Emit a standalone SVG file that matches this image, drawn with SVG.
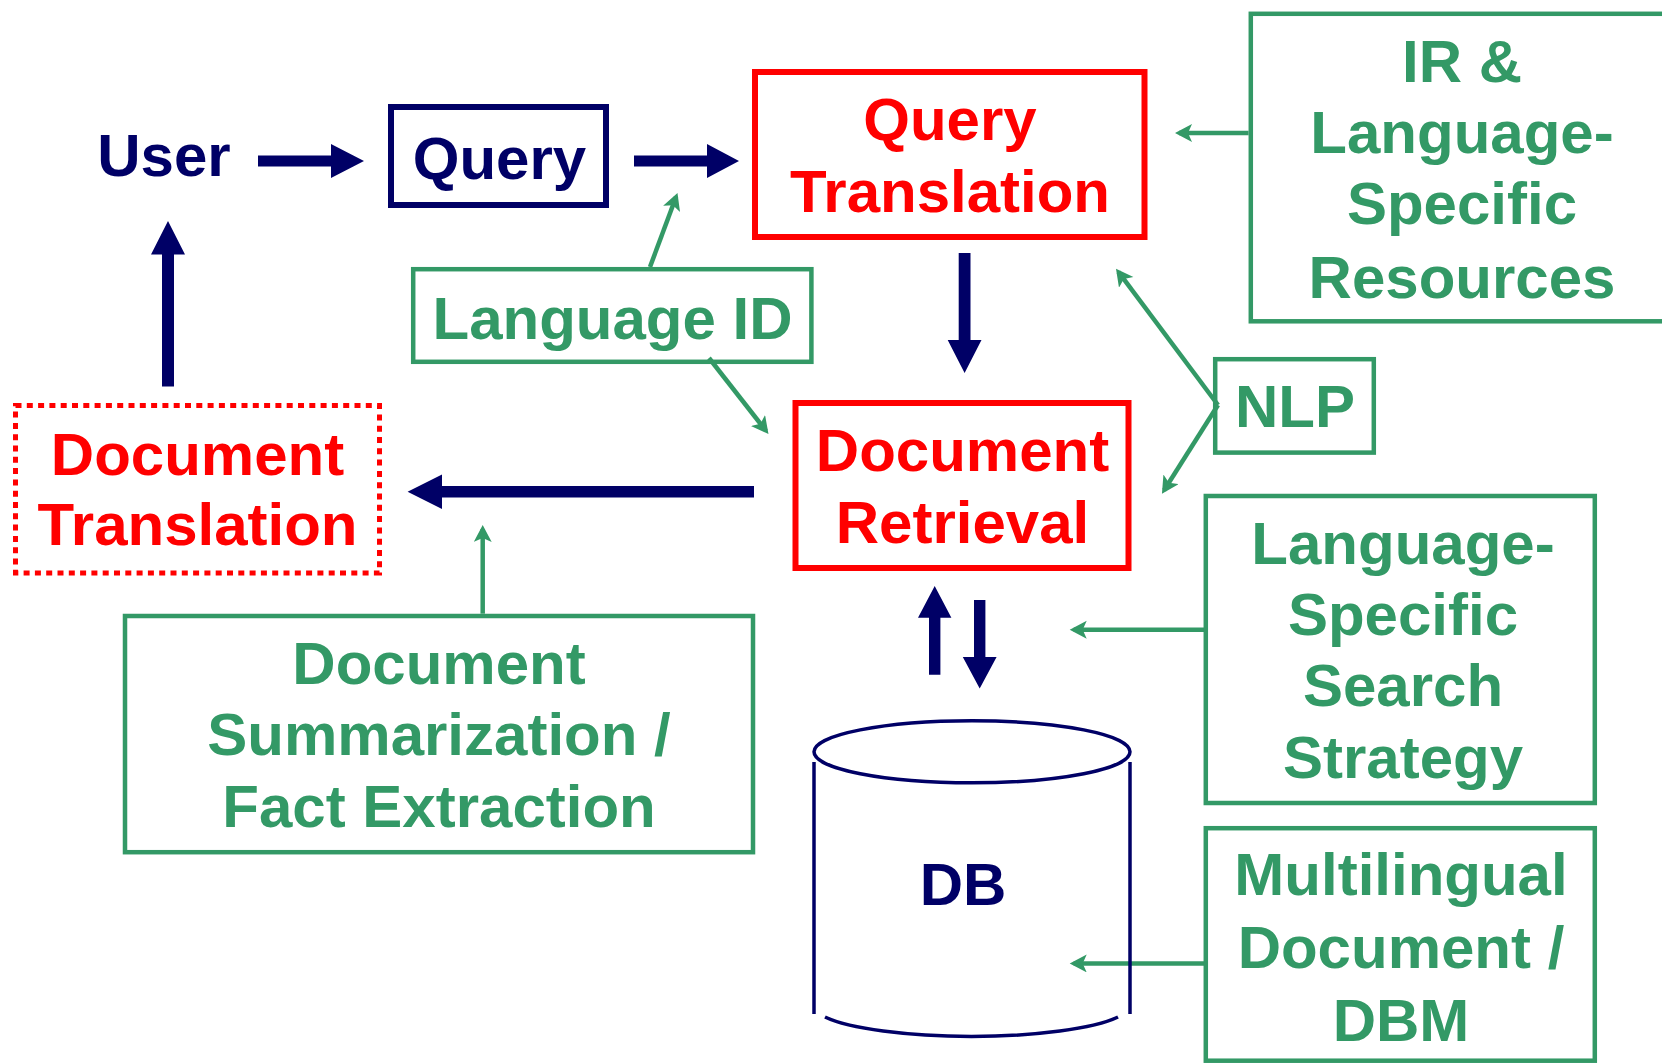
<svg xmlns="http://www.w3.org/2000/svg" width="1662" height="1064" viewBox="0 0 1662 1064">
  <style>
    text { font-family: "Liberation Sans", Arial, sans-serif; font-weight: bold; font-size: 60px; text-anchor: middle; }
    .navy { fill: #000066; }
    .red { fill: #FF0000; }
    .green { fill: #339966; }
    .box-navy { fill: none; stroke: #000066; stroke-width: 6; }
    .box-red { fill: none; stroke: #FF0000; stroke-width: 6; }
    .box-dotted { fill: none; stroke: #FF0000; stroke-width: 5; stroke-dasharray: 6 5.3; }
    .box-green { fill: none; stroke: #339966; stroke-width: 4.5; }
    .flow { fill: #000066; stroke: none; }
    .link { fill: none; stroke: #339966; stroke-width: 4.5; marker-end: url(#gh); }
    .db { fill: none; stroke: #000066; stroke-width: 3.5; }
  </style>
  <defs>
    <marker id="gh" markerUnits="userSpaceOnUse" markerWidth="22" markerHeight="22" refX="13" refY="9" orient="auto">
      <path d="M0,0 L17,9 L0,18 L4,9 Z" fill="#339966"/>
    </marker>
  </defs>
  <rect width="1662" height="1064" fill="#FFFFFF"/>

  <g id="connectors">
    <!-- main flow (thick navy arrows) -->
    <polygon class="flow" points="258,155.5 331,155.5 331,144 364,161 331,178 331,166.5 258,166.5"/>
    <polygon class="flow" points="634,155.5 707,155.5 707,144 739,161 707,178 707,166.5 634,166.5"/>
    <polygon class="flow" points="162,386.5 162,254.5 151,254.5 168,221 185,254.5 174,254.5 174,386.5"/>
    <polygon class="flow" points="958.7,253 970.5,253 970.5,340 981.5,340 964.6,373 947.7,340 958.7,340"/>
    <polygon class="flow" points="754,486 442,486 442,474.6 407.6,491.8 442,509 442,497.6 754,497.6"/>
    <polygon class="flow" points="929,674.8 929,617.8 918,617.8 934.7,586 951.4,617.8 940.4,617.8 940.4,674.8"/>
    <polygon class="flow" points="974,600 985.4,600 985.4,657 996.6,657 979.7,688.5 962.8,657 974,657"/>
    <!-- supporting resources (thin green arrows) -->
    <line class="link" x1="650" y1="267" x2="676.1" y2="196.7"/>
    <line class="link" x1="709" y1="358" x2="766" y2="430.8"/>
    <line class="link" x1="1248.6" y1="133" x2="1179" y2="133"/>
    <line class="link" x1="1218" y1="405" x2="1118.4" y2="271.9"/>
    <line class="link" x1="1218" y1="405" x2="1164.1" y2="490.3"/>
    <line class="link" x1="482.7" y1="613.7" x2="482.7" y2="529"/>
    <line class="link" x1="1204.7" y1="629.7" x2="1073.7" y2="629.7"/>
    <line class="link" x1="1204.7" y1="963.4" x2="1073.7" y2="963.4"/>
  </g>

  <g id="user">
    <text class="navy" x="164" y="176">User</text>
  </g>

  <g id="query">
    <rect class="box-navy" x="391" y="107" width="215" height="98"/>
    <text class="navy" x="499.5" y="179">Query</text>
  </g>

  <g id="query-translation">
    <rect class="box-red" x="755" y="72" width="389.5" height="165"/>
    <text class="red" x="950" y="140">Query</text>
    <text class="red" x="950" y="212">Translation</text>
  </g>

  <g id="language-id">
    <rect class="box-green" x="413.2" y="269.2" width="398.2" height="92.6"/>
    <text class="green" x="612.5" y="339">Language ID</text>
  </g>

  <g id="ir-resources">
    <rect class="box-green" x="1250.8" y="13.8" width="500" height="307.5"/>
    <text class="green" x="1462" y="81.5">IR &amp;</text>
    <text class="green" x="1462" y="153">Language-</text>
    <text class="green" x="1462" y="224">Specific</text>
    <text class="green" x="1462" y="298">Resources</text>
  </g>

  <g id="nlp">
    <rect class="box-green" x="1215.2" y="359.2" width="158.6" height="93.4"/>
    <text class="green" x="1295" y="426.7">NLP</text>
  </g>

  <g id="document-retrieval">
    <rect class="box-red" x="795.5" y="403" width="333" height="165"/>
    <text class="red" x="962.5" y="470.7">Document</text>
    <text class="red" x="962.5" y="542.7">Retrieval</text>
  </g>

  <g id="document-translation">
    <rect class="box-dotted" x="15.5" y="405.5" width="364" height="167.5"/>
    <text class="red" x="197.5" y="474.6">Document</text>
    <text class="red" x="197.5" y="545">Translation</text>
  </g>

  <g id="summarization">
    <rect class="box-green" x="125" y="616" width="628" height="236.2"/>
    <text class="green" x="439" y="683.5">Document</text>
    <text class="green" x="439" y="755.4">Summarization /</text>
    <text class="green" x="439" y="827">Fact Extraction</text>
  </g>

  <g id="db">
    <ellipse class="db" cx="972" cy="751.8" rx="158" ry="31"/>
    <line class="db" x1="814" y1="762" x2="814" y2="1014"/>
    <line class="db" x1="1130" y1="762" x2="1130" y2="1014"/>
    <path class="db" d="M825,1017 A158,31 0 0 0 1118,1017"/>
    <text class="navy" x="963" y="904.5">DB</text>
  </g>

  <g id="search-strategy">
    <rect class="box-green" x="1205.8" y="496" width="389" height="307"/>
    <text class="green" x="1403" y="563.8">Language-</text>
    <text class="green" x="1403" y="634.5">Specific</text>
    <text class="green" x="1403" y="706.4">Search</text>
    <text class="green" x="1403" y="778">Strategy</text>
  </g>

  <g id="multilingual-dbm">
    <rect class="box-green" x="1205.8" y="828.2" width="389" height="232.5"/>
    <text class="green" x="1401" y="895">Multilingual</text>
    <text class="green" x="1401" y="968">Document /</text>
    <text class="green" x="1401" y="1040.5">DBM</text>
  </g>
</svg>
